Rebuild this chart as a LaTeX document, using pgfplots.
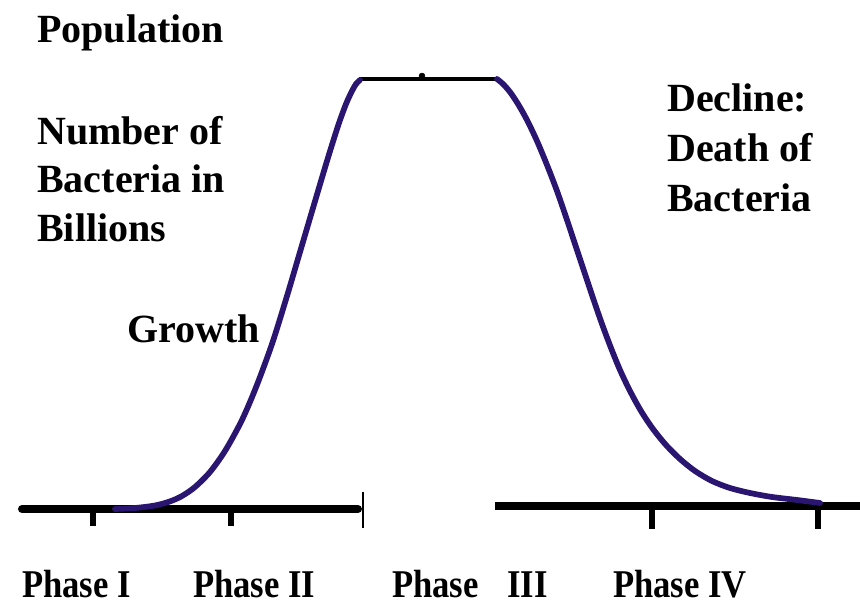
\documentclass[border=0pt]{standalone}
\usepackage{fontspec}
\setmainfont{Liberation Serif}
\newfontfamily\phasefont[FakeStretch=0.88]{Liberation Serif}
\usepackage{pgfplots}
\pgfplotsset{compat=1.18}
\definecolor{curve}{RGB}{42,22,112}
\begin{document}
\begin{tikzpicture}
\useasboundingbox (0,0) rectangle (645pt,453.75pt);
\begin{axis}[
  at={(0,0)}, anchor=south west,
  scale only axis, width=645pt, height=453.75pt,
  xmin=0, xmax=860, ymin=0, ymax=605, y dir=reverse,
  hide axis, clip=false,
]
% baselines
\addplot[black, line width=6pt, line cap=round] coordinates {(22,509) (358,509)};
\addplot[black, line width=6pt, line cap=butt] coordinates {(495,506) (862,506)};
% ticks
\addplot[black, line width=4.5pt] coordinates {(93,509) (93,526)};
\addplot[black, line width=4.5pt] coordinates {(231,509) (231,526)};
\addplot[black, line width=4.5pt] coordinates {(652,506) (652,529)};
\addplot[black, line width=4.5pt] coordinates {(818,506) (818,529)};
\addplot[black, line width=1.3pt] coordinates {(363,492) (363,528)};
% top plateau
\addplot[black, line width=3.5pt] coordinates {(359,79) (498,79)};
\addplot[black, only marks, mark=*, mark size=2.2pt] coordinates {(422,76)};
% growth curve
\addplot[curve, line width=4.3pt, smooth, line join=round, line cap=round] coordinates {
(115,509) (135,508) (155,505.5) (170,501.4) (182,496) (195,487) (210,472)
(225,451) (240,424) (250,402) (260,377) (273,341) (287,296) (300,252)
(313,208) (327,161) (338,126) (346,104) (352,91) (356,84) (360,80)};
% decline curve
\addplot[curve, line width=4.3pt, smooth, line join=round, line cap=round] coordinates {
(497,79) (503,84) (510,92) (518,104) (527,120) (537,141) (547,165)
(557,191) (566,217) (575,244) (584,271) (593,298) (602,324) (611,348)
(620,370) (630,391) (641,411) (653,429) (666,445) (680,459) (695,471)
(712,481) (730,488) (750,493) (772,497) (797,500) (820,503)};
% labels
\begin{scope}[every node/.style={anchor=base west, inner sep=0pt, font=\fontsize{30}{36}\selectfont\bfseries}]
\node at (axis cs:37,43) {Population};
\node at (axis cs:37,145) {Number of};
\node at (axis cs:37,193) {Bacteria in};
\node at (axis cs:37,242) {Billions};
\node at (axis cs:127,343) {Growth};
\node at (axis cs:667,112) {Decline:};
\node at (axis cs:667,162) {Death of};
\node at (axis cs:667,212) {Bacteria};
\end{scope}
\begin{scope}[every node/.style={anchor=base west, inner sep=0pt, font=\phasefont\fontsize{29.5}{34}\selectfont\bfseries}]
\node at (axis cs:22,597) {Phase I};
\node at (axis cs:193,597) {Phase II};
\node at (axis cs:392,597) {Phase};
\node at (axis cs:507,597) {III};
\node at (axis cs:613,597) {Phase IV};
\end{scope}
\end{axis}
\end{tikzpicture}
\end{document}
